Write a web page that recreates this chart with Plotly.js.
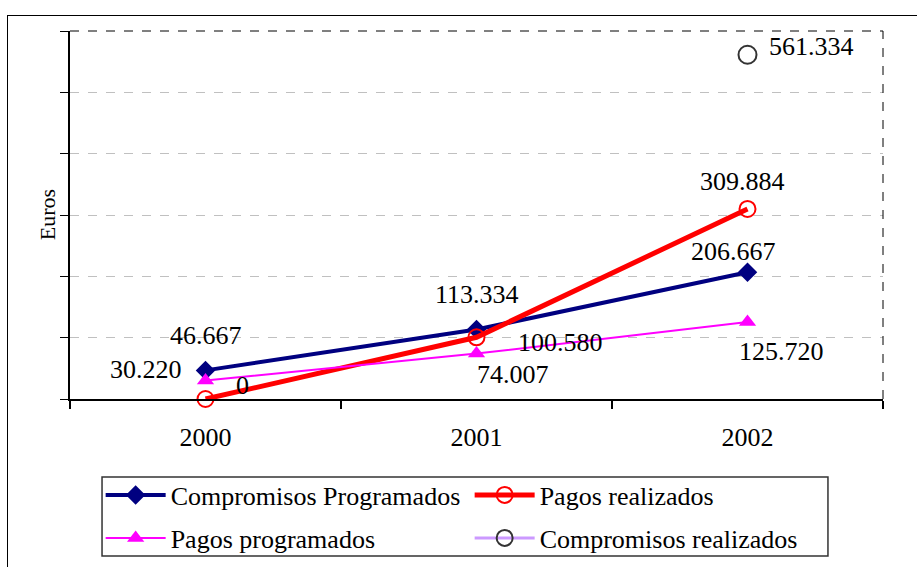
<!DOCTYPE html>
<html>
<head>
<meta charset="utf-8">
<script src="https://cdn.plot.ly/plotly-3.0.1.min.js"></script>
<style>
  body { margin: 0; background: #fff; }
  #frame { position: absolute; left: 7px; top: 15px; width: 960px; height: 600px;
           border-left: 1px solid #000; border-top: 1px solid #000; }
  #myDiv { position: absolute; left: 0; top: 0; width: 917px; height: 567px; }
</style>
</head>
<body>
<div id="frame"></div>
<div id="myDiv"></div>
<script>
var years = ['2000', '2001', '2002'];
var compromisosProgramados = [46667, 113334, 206667];
var pagosRealizados = [0, 100580, 309884];
var pagosProgramados = [30220, 74007, 125720];
var compromisosRealizados = [null, null, 561334];

var font = 'Liberation Serif';

var trace1 = {
  x: years, y: compromisosProgramados,
  type: 'scatter', mode: 'lines+markers',
  name: 'Compromisos Programados',
  line: { color: '#000080', width: 4 },
  marker: { symbol: 'diamond', size: 15, color: '#000080' },
  cliponaxis: false, legend: 'legend'
};
var trace2 = {
  x: years, y: pagosRealizados,
  type: 'scatter', mode: 'lines+markers',
  name: 'Pagos realizados',
  line: { color: '#ff0000', width: 5 },
  marker: { symbol: 'circle-open', size: 16, color: '#ff0000', line: { width: 2 } },
  cliponaxis: false, legend: 'legend'
};
var trace3 = {
  x: years, y: pagosProgramados,
  type: 'scatter', mode: 'lines+markers',
  name: 'Pagos programados',
  line: { color: '#ff00ff', width: 2 },
  marker: { symbol: 'triangle-up', size: 15, color: '#ff00ff' },
  cliponaxis: false, legend: 'legend2'
};
var trace4 = {
  x: years, y: compromisosRealizados,
  type: 'scatter', mode: 'lines+markers',
  name: 'Compromisos realizados',
  line: { color: '#cc99ff', width: 3 },
  marker: { symbol: 'circle-open', size: 18, color: '#333333', line: { width: 2 } },
  cliponaxis: false, legend: 'legend2'
};

// label offsets in pixels [xshift, yshift] for each series point
var series = [compromisosProgramados, pagosRealizados, pagosProgramados, compromisosRealizados];
var offsets = [
  [[0, 35], [0, 35], [-14, 21]],
  [[37, 14], [84, -5], [-5, 27]],
  [[-60, 11], [36, -21], [34, -30]],
  [null, null, [64, 8]]
];

function fmt(v) {
  // Spanish thousands separator
  return String(v).replace(/\B(?=(\d{3})+(?!\d))/g, '.');
}

var annotations = [];
series.forEach(function (vals, s) {
  vals.forEach(function (v, i) {
    if (v === null) return;
    annotations.push({
      x: i, y: v, xref: 'x', yref: 'y',
      text: fmt(v),
      showarrow: false,
      xshift: offsets[s][i][0], yshift: offsets[s][i][1],
      font: { family: font, size: 26, color: '#000' }
    });
  });
});

annotations.push({
  x: -0.028, y: 0.5, xref: 'paper', yref: 'paper',
  text: 'Euros', textangle: -90, showarrow: false,
  xanchor: 'center', yanchor: 'middle',
  font: { family: font, size: 22, color: '#000' }
});

var data = [trace1, trace2, trace3, trace4];

var legendBase = {
  orientation: 'h',
  x: 0.0377, xanchor: 'left', yanchor: 'middle',
  borderwidth: 0, bgcolor: 'rgba(0,0,0,0)',
  entrywidth: 294, itemwidth: 60,
  font: { family: font, size: 26 }
};

var layout = {
  width: 917, height: 567,
  margin: { l: 70, r: 34, t: 31, b: 168, autoexpand: false },
  paper_bgcolor: 'rgba(0,0,0,0)',
  plot_bgcolor: '#fff',
  font: { family: font, size: 26, color: '#000' },
  showlegend: true,
  xaxis: {
    type: 'category',
    range: [-0.5, 2.5],
    tickson: 'boundaries',
    ticks: 'outside', ticklen: 8, tickwidth: 2, tickcolor: '#000',
    showline: true, linecolor: '#000', linewidth: 2,
    showgrid: false, zeroline: false,
    ticklabelstandoff: 14,
    tickfont: { family: font, size: 26 }
  },
  yaxis: {
    range: [0, 600000],
    dtick: 100000,
    showticklabels: false,
    ticks: 'outside', ticklen: 8, tickwidth: 1, tickcolor: '#000',
    showline: true, linecolor: '#000', linewidth: 1.5,
    showgrid: true, gridcolor: '#c0c0c0', griddash: 'dash', gridwidth: 1,
    zeroline: false
  },
  shapes: [
    { type: 'line', xref: 'paper', yref: 'paper', x0: 0, x1: 1, y0: 1, y1: 1,
      line: { color: '#000', width: 1, dash: 'dash' } },
    { type: 'line', xref: 'paper', yref: 'paper', x0: 1, x1: 1, y0: 0, y1: 1,
      line: { color: '#000', width: 1, dash: 'dash' } },
    // legend box
    { type: 'rect', xref: 'paper', yref: 'paper',
      x0: 0.0394, x1: 0.9323, y0: -0.212, y1: -0.4266,
      line: { color: '#333', width: 1.5 } }
  ],
  legend: Object.assign({}, legendBase, { y: -0.2609 }),
  legend2: Object.assign({}, legendBase, { y: -0.3777 }),
  annotations: annotations
};

Plotly.newPlot('myDiv', data, layout, { displayModeBar: false });
</script>
</body>
</html>
